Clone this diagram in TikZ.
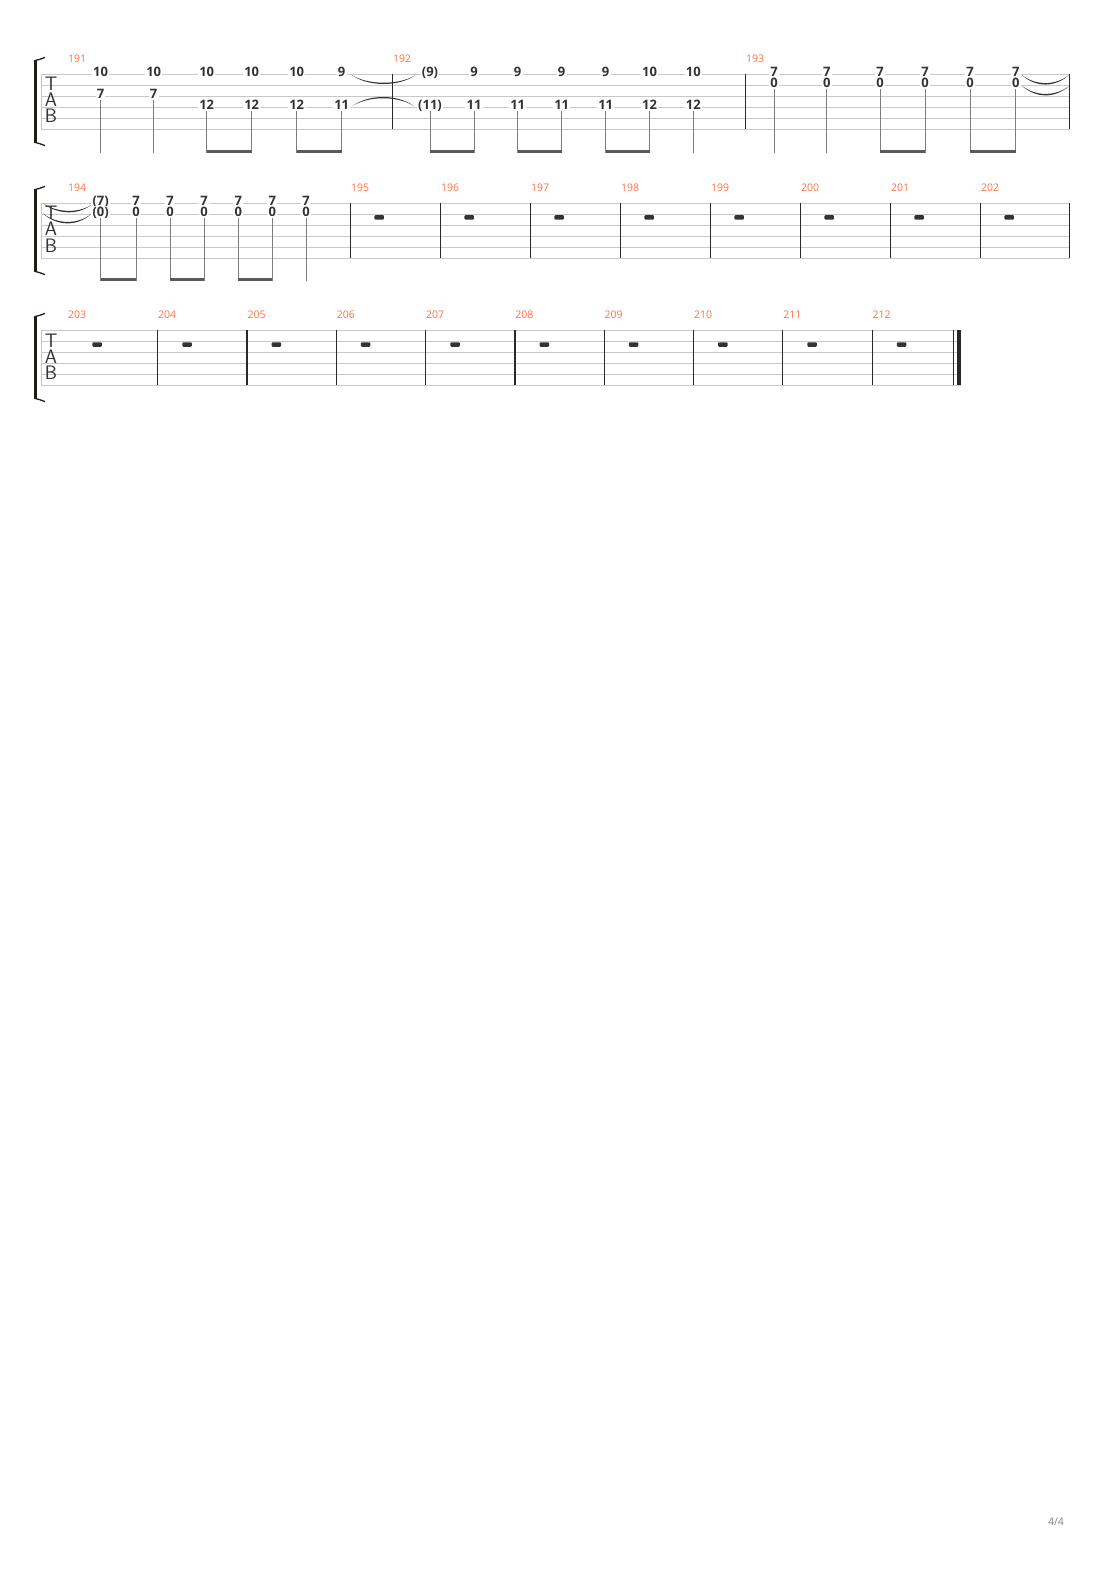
\documentclass[tikz,border=0pt]{standalone}
\usepackage{fontspec}
\usepackage{xcolor}
\newfontfamily\fretfont{Open Sans}
\definecolor{barorange}{RGB}{255,112,67}
\definecolor{fretgray}{RGB}{51,51,51}
\definecolor{linegray}{RGB}{200,200,200}
\definecolor{stemgray}{RGB}{125,125,125}
\definecolor{beamgray}{RGB}{90,90,90}
\definecolor{bargray}{RGB}{40,40,40}
\definecolor{restgray}{RGB}{51,51,51}
\definecolor{bracketcol}{RGB}{30,30,20}
\definecolor{pagegray}{RGB}{130,130,130}
\begin{document}
\begin{tikzpicture}[x=1pt,y=-1pt,
  staffline/.style={draw=linegray,line width=0.9pt},
  barline/.style={draw=bargray,line width=1.2pt},
  stemline/.style={draw=stemgray,line width=1pt},
  beamline/.style={draw=beamgray,line width=3pt},
  fret/.style={font=\fretfont\bfseries\fontsize{13}{13}\selectfont,text=fretgray,fill=white,inner sep=1.2pt,text height=9.3pt,text depth=0pt},
  barnum/.style={font=\fretfont\fontsize{10.5}{10.5}\selectfont,text=barorange,anchor=west,inner sep=0pt},
  tabletter/.style={font=\sffamily\fontsize{19.5}{19.5}\selectfont,text=fretgray,inner sep=0pt,text height=13pt,text depth=0pt},
  tiefill/.style={fill=fretgray},
  reststyle/.style={fill=restgray,rounded corners=1pt,minimum width=9.5pt,minimum height=4.5pt,inner sep=0pt}]
\useasboundingbox (0,0) rectangle (1110,1570);

\foreach \y/\e [count=\s] in {74/1069.5,203/1069.5,330/960.7}{
  \foreach \i in {0,...,5}
    \draw[staffline] (41,\y+11*\i) -- (\e,\y+11*\i);
  \draw[staffline] (41,\y) -- (41,\y+55);
  \fill[bracketcol] (33.8,\y-14) rectangle (36.8,\y+69);
  \draw[bracketcol,line width=1.3pt] (35,\y-13.4) .. controls (39,\y-14.4) .. (45,\y-16.6);
  \draw[bracketcol,line width=1.3pt] (35,\y+68.4) .. controls (39,\y+69.4) .. (45,\y+71.6);
  \node[tabletter] (T\s) at (51,\y+10.5) {T};
  \node[tabletter] (A\s) at (51,\y+26.5) {A};
  \node[tabletter] (B\s) at (51,\y+42.5) {B};
}

% system 1
\coordinate (e1) at (0,153);
\coordinate (h1) at (0,151.5);
\node[barnum] (l191) at (68,58.5) {191};
\foreach \x/\n [count=\k] in {100.5/10,153.7/10,206.7/10,251.7/10,296.7/10,341.7/9}
  \node[fret] (m191t\k) at (\x,72) {\n};
\foreach \x/\s/\n [count=\k] in {100.5/2/7,153.7/2/7,206.7/3/12,251.7/3/12,296.7/3/12,341.7/3/11}
  \node[fret] (m191b\k) at (\x,72+11*\s) {\n};
\foreach \k in {1,...,6}
  \draw[stemline] (m191b\k.south) -- (m191b\k.south |- e1);
\draw[beamline] (m191b3.south |- h1) -- (m191b4.south |- h1);
\draw[beamline] (m191b5.south |- h1) -- (m191b6.south |- h1);

\draw[barline] (392.7,74) -- (392.7,129);
\node[barnum] (l192) at (393,58.5) {192};
\foreach \x/\n [count=\k] in {430/{(9)},474/9,517.7/9,561.7/9,605.7/9,649.5/10,693.3/10}
  \node[fret] (m192t\k) at (\x,72) {\n};
\foreach \x/\n [count=\k] in {430/{(11)},474/11,517.7/11,561.7/11,605.7/11,649.5/12,693.3/12}
  \node[fret] (m192b\k) at (\x,105) {\n};
\foreach \k in {1,...,7}
  \draw[stemline] (m192b\k.south) -- (m192b\k.south |- e1);
\draw[beamline] (m192b1.south |- h1) -- (m192b2.south |- h1);
\draw[beamline] (m192b3.south |- h1) -- (m192b4.south |- h1);
\draw[beamline] (m192b5.south |- h1) -- (m192b6.south |- h1);

\fill[tiefill] ([shift={(5,3)}]m191t6.east) .. controls +(16,12) and +(-16,12) .. ([shift={(-5,3)}]m192t1.west)
  .. controls +(-16,10.3) and +(16,10.3) .. ([shift={(5,3)}]m191t6.east) -- cycle;
\fill[tiefill] ([shift={(2,1)}]m191b6.east) .. controls +(16,-12) and +(-16,-12) .. ([shift={(-3,1)}]m192b1.west)
  .. controls +(-16,-10.3) and +(16,-10.3) .. ([shift={(2,1)}]m191b6.east) -- cycle;

\draw[barline] (745.7,74) -- (745.7,129);
\node[barnum] (l193) at (746,58.5) {193};
\foreach \x [count=\k] in {774,826.7,880,925,970,1015.7}{
  \node[fret] (m193t\k) at (\x,72) {7};
  \node[fret] (m193b\k) at (\x,83) {0};
  \draw[stemline] (m193b\k.south) -- (m193b\k.south |- e1);
}
\draw[beamline] (m193b3.south |- h1) -- (m193b4.south |- h1);
\draw[beamline] (m193b5.south |- h1) -- (m193b6.south |- h1);
\draw[barline] (1069.5,74) -- (1069.5,129);
\coordinate (t1end) at (1069,75);
\coordinate (t2end) at (1069,86);
\fill[tiefill] ([shift={(1,3)}]m193t6.east) .. controls +(14,12.7) and +(-14,12.7) .. (t1end)
  .. controls +(-14,10.8) and +(14,10.8) .. ([shift={(1,3)}]m193t6.east) -- cycle;
\fill[tiefill] ([shift={(1,2.7)}]m193b6.east) .. controls +(14,12.7) and +(-14,12.7) .. (t2end)
  .. controls +(-14,10.8) and +(14,10.8) .. ([shift={(1,2.7)}]m193b6.east) -- cycle;

% system 2
\coordinate (e2) at (0,281);
\coordinate (h2) at (0,279.5);
\node[barnum] (l194) at (68,187.5) {194};
\foreach \x/\a/\b [count=\k] in {100.7/{(7)}/{(0)},136/7/0,170/7/0,204/7/0,238.3/7/0,272.3/7/0,306/7/0}{
  \node[fret] (m194t\k) at (\x,201) {\a};
  \node[fret] (m194b\k) at (\x,212) {\b};
  \draw[stemline] (m194b\k.south) -- (m194b\k.south |- e2);
}
\draw[beamline] (m194b1.south |- h2) -- (m194b2.south |- h2);
\draw[beamline] (m194b3.south |- h2) -- (m194b4.south |- h2);
\draw[beamline] (m194b5.south |- h2) -- (m194b6.south |- h2);
\coordinate (t3beg) at (43,203.5);
\coordinate (t4beg) at (43,213.5);
\fill[tiefill] (t3beg) .. controls +(14,10.7) and +(-14,10.7) .. ([shift={(0,4)}]m194t1.west)
  .. controls +(-14,8.8) and +(14,8.8) .. (t3beg) -- cycle;
\fill[tiefill] (t4beg) .. controls +(14,12.8) and +(-14,12.8) .. ([shift={(0,2)}]m194b1.west)
  .. controls +(-14,10.9) and +(14,10.9) .. (t4beg) -- cycle;

\foreach \k in {0,...,7}{
  \pgfmathsetmacro\bx{350.7+90*\k}
  \pgfmathtruncatemacro\mn{195+\k}
  \draw[barline] (\bx,203) -- (\bx,258);
  \node[barnum] (l\mn) at (\bx+0.3,187.5) {\mn};
  \node[reststyle] (r\mn) at (\bx+28.5,217.3) {};
}
\draw[barline] (1069.5,203) -- (1069.5,258);

% system 3
\node[barnum] (l203) at (68,314.5) {203};
\node[reststyle] (r203) at (97,344.5) {};
\foreach \k in {0,...,8}{
  \pgfmathsetmacro\bx{157.7+89.3*\k}
  \pgfmathtruncatemacro\mn{204+\k}
  \draw[barline] (\bx,330) -- (\bx,385);
  \node[barnum] (l\mn) at (\bx+0.3,314.5) {\mn};
  \node[reststyle] (r\mn) at (\bx+29.4,344.5) {};
}
\draw[barline] (953.3,330) -- (953.3,385);
\fill[bargray] (957.3,329.6) rectangle (960.9,385.4);

\node[font=\fretfont\fontsize{10.5}{10.5}\selectfont,text=pagegray] (pg) at (1056,1522) {4/4};
\end{tikzpicture}
\end{document}
